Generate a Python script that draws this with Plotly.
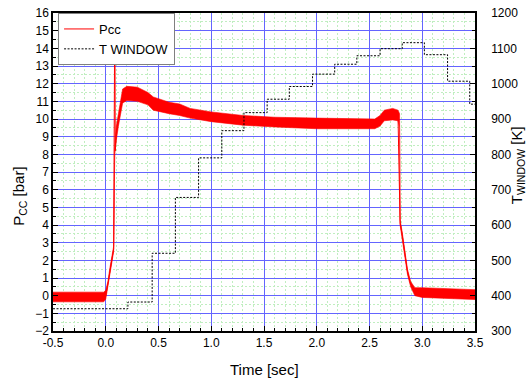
import plotly.graph_objects as go

# ---- Pcc noise band (envelope) ----
band_t  = [-0.5, -0.3, -0.1, -0.02, 0.0, 0.02, 0.04, 0.06, 0.075, 0.085, 0.10, 0.12, 0.14, 0.16,
           0.20, 0.30, 0.40, 0.45, 0.60, 0.70, 0.80, 1.00, 1.30, 1.60, 2.00, 2.30, 2.55, 2.60,
           2.64, 2.72, 2.77, 2.785, 2.79, 2.81, 2.83, 2.86, 2.89, 2.93, 3.00, 3.20, 3.50]
band_lo = [-0.35, -0.35, -0.35, -0.35, -0.2, 0.5, 1.3, 2.0, 2.5, 8.0, 8.8, 9.6, 10.3, 10.9,
           11.05, 11.0, 10.8, 10.5, 10.3, 10.2, 10.05, 9.85, 9.65, 9.55, 9.45, 9.45, 9.45, 9.6,
           9.9, 9.95, 9.9, 9.5, 4.0, 3.3, 2.5, 1.2, 0.5, 0.0, -0.1, -0.15, -0.22]
band_hi = [0.2, 0.2, 0.2, 0.2, 0.3, 0.8, 1.6, 2.4, 2.8, 8.4, 9.6, 10.3, 11.0, 11.7,
           11.85, 11.8, 11.5, 11.25, 10.95, 10.85, 10.6, 10.4, 10.2, 10.1, 10.05, 10.0, 10.0, 10.2,
           10.5, 10.6, 10.5, 10.3, 4.3, 3.6, 2.8, 1.5, 0.8, 0.45, 0.45, 0.4, 0.34]

# ---- Pcc thin centre line (incl. the ignition spike) ----
pcc_t = [-0.5, 0.0, 0.02, 0.04, 0.06, 0.075, 0.086, 0.09, 0.10, 0.12, 0.14, 0.16, 0.30, 0.45,
         0.70, 1.00, 1.30, 2.00, 2.55, 2.64, 2.77, 2.79, 2.81, 2.83, 2.86, 2.89, 2.93, 3.00, 3.50]
pcc_v = [-0.05, 0.0, 0.65, 1.45, 2.2, 2.65, 17.0, 8.2, 9.2, 9.95, 10.65, 11.3, 11.4, 10.9,
         10.5, 10.1, 9.9, 9.75, 9.7, 10.2, 10.2, 4.1, 3.45, 2.65, 1.35, 0.65, 0.2, 0.15, 0.05]

# ---- T WINDOW steps ----
tw_t = [-0.5, 0.21, 0.44, 0.66, 0.88, 1.10, 1.31, 1.53, 1.74, 1.96, 2.17, 2.38, 2.60, 2.81,
        3.02, 3.24, 3.45, 3.5]
tw_v = [363, 382, 520, 678, 790, 867, 918, 956, 992, 1027, 1055, 1079, 1099, 1116,
        1082, 1007, 942, 942]

x_ticks = [-0.5, 0.0, 0.5, 1.0, 1.5, 2.0, 2.5, 3.0, 3.5]
x_tick_labels = ["-0.5", "0.0", "0.5", "1.0", "1.5", "2.0", "2.5", "3.0", "3.5"]

FONT = "Arial, Liberation Sans, sans-serif"
RED = "#ff0000"

fig = go.Figure()
fig.add_trace(go.Scatter(
    x=band_t + band_t[::-1], y=band_hi + band_lo[::-1],
    fill="toself", fillcolor=RED, mode="lines", line=dict(color=RED, width=0.6),
    showlegend=False, hoverinfo="skip"))
fig.add_trace(go.Scatter(
    x=pcc_t, y=pcc_v, mode="lines", name="Pcc",
    line=dict(color=RED, width=1)))
fig.add_trace(go.Scatter(
    x=tw_t, y=tw_v, mode="lines", name="T WINDOW", yaxis="y2",
    line=dict(color="#000000", width=1, dash="2px,1.5px", shape="hv")))

BLUE = "#6464ff"
GREEN = "#c0eec0"

fig.update_layout(
    width=532, height=381, autosize=False,
    margin=dict(l=53, r=57, t=13, b=50, autoexpand=False),
    paper_bgcolor="white", plot_bgcolor="white",
    font=dict(family=FONT, size=12, color="black"),
    showlegend=True,
    legend=dict(x=0.012, y=1.0, xanchor="left", yanchor="top",
                bgcolor="white", bordercolor="#808080", borderwidth=1,
                font=dict(size=13, family=FONT), itemwidth=30,
                tracegroupgap=0),
    xaxis=dict(range=[-0.5, 3.5], tickvals=x_ticks, ticktext=x_tick_labels,
               automargin=False,
               showline=True, linecolor="black", linewidth=1.5, mirror=True,
               ticks="inside", ticklen=5, tickcolor="black",
               showgrid=True, gridcolor=BLUE, gridwidth=1,
               zeroline=False,
               minor=dict(dtick=0.1, tick0=-0.5, ticks="inside", ticklen=3,
                          tickcolor="black", showgrid=True, gridcolor=GREEN,
                          griddash="2px,2px", gridwidth=1),
               tickfont=dict(size=12)),
    yaxis=dict(range=[-2, 16], dtick=1, tick0=0, automargin=False,
               showline=True, linecolor="black", linewidth=1.5, mirror=False,
               ticks="inside", ticklen=5, tickcolor="black",
               showgrid=True, gridcolor=BLUE, gridwidth=1,
               zeroline=False,
               minor=dict(dtick=0.5, ticks="inside", ticklen=3, tickcolor="black",
                          showgrid=True, gridcolor=GREEN, griddash="2px,2px", gridwidth=1),
               tickfont=dict(size=12)),
    yaxis2=dict(range=[300, 1200], dtick=100, overlaying="y", side="right",
                automargin=False,
                showline=True, linecolor="black", linewidth=1.5,
                ticks="inside", ticklen=5, tickcolor="black",
                showgrid=False, zeroline=False, ticklabelstandoff=12,
                minor=dict(dtick=50, ticks="inside", ticklen=3, tickcolor="black",
                           showgrid=False),
                tickfont=dict(size=12)),
    annotations=[
        dict(text="Time [sec]", xref="paper", yref="paper", x=0.5, y=-0.1195,
             xanchor="center", yanchor="middle", showarrow=False,
             font=dict(size=15, family=FONT)),
        dict(text="P<sub>CC</sub> [bar]", xref="paper", yref="paper", x=-0.081, y=0.4245,
             xanchor="center", yanchor="middle", showarrow=False, textangle=-90,
             font=dict(size=15, family=FONT)),
        dict(text="T<sub>WINDOW</sub> [K]", xref="paper", yref="paper", x=1.10, y=0.522,
             xanchor="center", yanchor="middle", showarrow=False, textangle=-90,
             font=dict(size=15, family=FONT)),
    ],
)

fig.write_html("out.html", config={"displayModeBar": False},
               post_script="document.body.style.margin='0';document.body.style.padding='0';")
